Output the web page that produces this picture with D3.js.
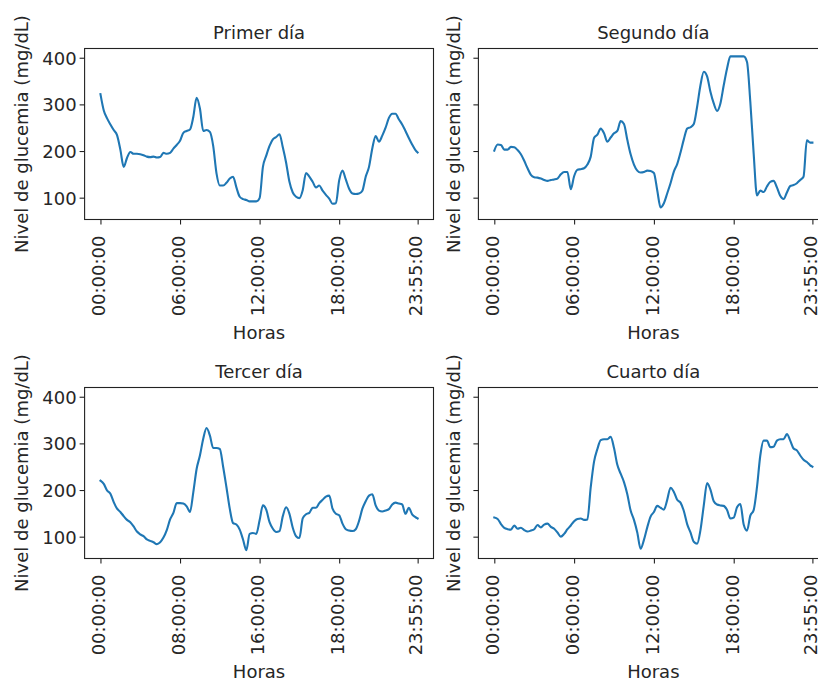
<!DOCTYPE html>
<html>
<head>
<meta charset="utf-8">
<script src="https://cdn.jsdelivr.net/npm/d3@7"></script>
<style>
  body { margin: 0; background: #fff; }
  svg text { font-family: "DejaVu Sans", sans-serif; fill: #262626; }
</style>
</head>
<body>
<svg id="chart" width="818" height="684"></svg>
<script>
// Glucose readings (mg/dL), one every 15 minutes (every 3rd 5-minute sample) plus the 23:55 sample
const dayTitles = ["Primer día", "Segundo día", "Tercer día", "Cuarto día"];
const sampleReadings = d3.range(0, 288, 3).concat([287]);

const day1 = [322,287,270,257,245,234,203,166,185,198,
  194,194,193,191,188,187,188,186,187,196,
  194,196,205,213,222,239,243,246,273,314,
  291,243,245,241,211,152,126,126,132,141,
  145,122,102,97,95,92,92,92,99,166,
  190,211,225,230,236,208,175,134,111,102,
  99,116,153,145,134,122,126,115,106,98,
  87,88,137,158,139,119,109,108,109,115,
  145,166,206,232,220,233,250,271,280,280,
  268,257,243,228,214,202,197];

const day2 = [201,214,213,203,203,209,208,202,193,179,
  163,149,144,143,141,138,136,138,139,141,
  150,155,155,118,146,160,161,163,171,188,
  228,235,248,238,220,229,238,243,264,258,
  224,193,171,158,154,155,158,157,153,116,
  79,88,109,131,156,172,197,225,248,251,
  258,295,341,370,360,327,302,286,302,341,
  377,403,403,403,403,403,391,305,195,105,
  115,112,124,134,136,122,104,97,111,125,
  127,131,138,145,223,218,218];

const day3 = [220,213,199,192,174,160,153,144,136,131,
  122,111,105,101,94,91,88,84,88,98,
  114,137,151,172,172,171,165,153,195,245,
  274,310,333,317,290,290,288,250,206,160,
  129,126,115,94,71,106,108,106,135,167,
  158,131,117,110,112,144,163,149,119,101,
  97,139,148,151,162,162,172,179,186,188,
  160,149,146,128,116,113,112,116,134,160,
  176,188,191,167,156,154,156,159,169,173,
  171,169,149,162,148,142,139];

const day4 = [141,138,127,119,116,115,124,117,119,114,
  111,113,116,125,120,126,128,121,117,109,
  100,106,116,124,133,138,139,136,137,206,
  261,288,307,309,309,314,290,254,235,217,
  191,156,136,109,74,93,120,143,153,166,
  162,158,179,205,196,179,173,155,127,109,
  89,85,114,167,215,201,176,169,167,166,
  157,139,141,163,170,126,113,145,157,206,
  274,306,306,292,293,306,309,309,320,306,
  289,285,274,265,260,253,250];

// Tick positions (sample number) and their time labels per day
const tickReadings = [0, 72, 144, 216, 287];
const tickLabels1 = ["00:00:00", "06:00:00", "12:00:00", "18:00:00", "23:55:00"];
const tickLabels2 = ["00:00:00", "06:00:00", "12:00:00", "18:00:00", "23:55:00"];
const tickLabels3 = ["00:00:00", "08:00:00", "16:00:00", "18:00:00", "23:55:00"];
const tickLabels4 = ["00:00:00", "06:00:00", "12:00:00", "18:00:00", "23:55:00"];
const yTicks = [100, 200, 300, 400];

const xLabel = "Horas";
const yLabel = "Nivel de glucemia (mg/dL)";

const lineColor = "#1f77b4";
const fontSize = 18;

const svg = d3.select("#chart");

const panels = [
  { values: day1, labels: tickLabels1, title: dayTitles[0], left: 84.6, right: 433.5, top: 48.5, bottom: 219.5, showY: true },
  { values: day2, labels: tickLabels2, title: dayTitles[1], left: 478.4, right: 828.3, top: 48.5, bottom: 219.5, showY: false },
  { values: day3, labels: tickLabels3, title: dayTitles[2], left: 84.6, right: 433.5, top: 387.5, bottom: 558.5, showY: true },
  { values: day4, labels: tickLabels4, title: dayTitles[3], left: 478.4, right: 828.3, top: 387.5, bottom: 558.5, showY: false }
];

panels.forEach(p => {
  const x = d3.scaleLinear().domain([-14.35, 301.35]).range([p.left, p.right]);
  const y = d3.scaleLinear().domain([53.2, 419.8]).range([p.bottom, p.top]);
  const g = svg.append("g");

  // glucose trace
  const pts = sampleReadings.map((r, i) => ({ r, v: p.values[i] }));
  g.append("path")
    .datum(pts)
    .attr("fill", "none")
    .attr("stroke", lineColor)
    .attr("stroke-width", 2.1)
    .attr("stroke-linejoin", "round")
    .attr("stroke-linecap", "square")
    .attr("d", d3.line().curve(d3.curveMonotoneX).x(d => x(d.r)).y(d => y(d.v)));

  // axes frame
  g.append("rect")
    .attr("x", p.left).attr("y", p.top)
    .attr("width", p.right - p.left).attr("height", p.bottom - p.top)
    .attr("fill", "none").attr("stroke", "#222").attr("stroke-width", 1.1);

  // y axis
  const yAxis = d3.axisLeft(y).tickValues(yTicks).tickSize(5).tickSizeOuter(0).tickPadding(3)
    .tickFormat(p.showY ? d3.format("d") : () => "");
  const ya = g.append("g").attr("transform", `translate(${p.left},0)`).call(yAxis);
  ya.select(".domain").remove();
  ya.selectAll(".tick line").attr("stroke", "#222").attr("stroke-width", 1.1);
  ya.selectAll(".tick text")
    .attr("font-size", fontSize).attr("font-family", "DejaVu Sans").attr("fill", "#262626")
    .attr("dy", "0.36em");

  // x axis with vertical time labels
  const xAxis = d3.axisBottom(x).tickValues(tickReadings).tickSize(5).tickSizeOuter(0)
    .tickFormat((d, i) => p.labels[i]);
  const xa = g.append("g").attr("transform", `translate(0,${p.bottom})`).call(xAxis);
  xa.select(".domain").remove();
  xa.selectAll(".tick line").attr("stroke", "#222").attr("stroke-width", 1.1);
  xa.selectAll(".tick text")
    .attr("font-size", fontSize).attr("font-family", "DejaVu Sans").attr("fill", "#262626")
    .attr("transform", "rotate(-90)")
    .attr("text-anchor", "end")
    .attr("x", -16).attr("y", 0).attr("dy", "0.24em");

  // title
  g.append("text")
    .attr("x", (p.left + p.right) / 2).attr("y", p.top - 9.2)
    .attr("text-anchor", "middle").attr("font-size", fontSize)
    .text(p.title);

  // axis labels
  g.append("text")
    .attr("x", (p.left + p.right) / 2).attr("y", p.bottom + 119)
    .attr("text-anchor", "middle").attr("font-size", fontSize)
    .text(xLabel);

  const yLabelX = p.showY ? p.left - 56.5 : p.left - 18.5;
  g.append("text")
    .attr("transform", `translate(${yLabelX},${(p.top + p.bottom) / 2}) rotate(-90)`)
    .attr("text-anchor", "middle").attr("font-size", fontSize)
    .text(yLabel);
});
</script>
</body>
</html>
